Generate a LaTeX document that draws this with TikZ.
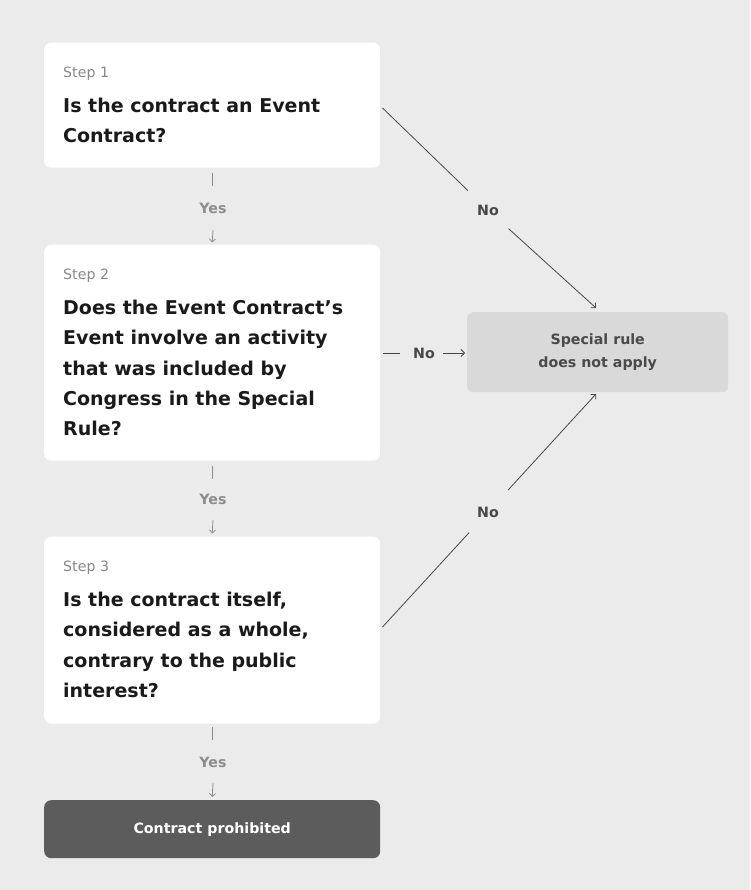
\documentclass[tikz,border=0pt]{standalone}
\usepackage{fontspec}
\setmainfont{DejaVu Sans}
\usetikzlibrary{arrows.meta,calc}
\definecolor{bgc}{HTML}{EBEBEB}
\definecolor{boxc}{HTML}{FFFFFF}
\definecolor{titlec}{HTML}{1A1A1A}
\definecolor{stepc}{HTML}{888888}
\definecolor{yesc}{HTML}{8C8C8C}
\definecolor{linec}{HTML}{474747}
\definecolor{specialc}{HTML}{D9D9D9}
\definecolor{specialt}{HTML}{4A4A4A}
\definecolor{prohc}{HTML}{5C5C5C}
\begin{document}
\begin{tikzpicture}[x=1pt,y=-1pt,
  stepbox/.style={draw=none,fill=boxc,rounded corners=7pt,minimum width=336pt,inner sep=0pt,anchor=north west},
  steplabel/.style={anchor=north west,inner sep=0pt,text=stepc,font=\fontsize{14.2}{16}\selectfont},
  question/.style={anchor=north west,inner sep=0pt,align=left,text=titlec,font=\fontsize{19}{30.3}\selectfont\bfseries},
  yeslabel/.style={inner sep=0pt,text=yesc,font=\fontsize{14.2}{17}\selectfont\bfseries},
  nolabel/.style={inner sep=0pt,text=linec,font=\fontsize{14.2}{17}\selectfont\bfseries},
  yesline/.style={draw=yesc,line width=0.8pt},
  yesarrow/.style={draw=yesc,line width=0.8pt,-{Straight Barb[length=3pt,width=6pt]}},
  noline/.style={draw=linec,line width=0.8pt},
  noarrow/.style={draw=linec,line width=0.8pt,-{Straight Barb[length=3.5pt,width=7pt]}},
]
\useasboundingbox (0,0) rectangle (750,890);
\fill[bgc] (0,0) rectangle (750,890);

% step boxes
\node[stepbox,minimum height=125pt] (b1) at (44,42.5) {};
\node[stepbox,minimum height=216pt] (b2) at (44,244.5) {};
\node[stepbox,minimum height=187pt] (b3) at (44,536.5) {};
\node[fill=prohc,rounded corners=7pt,minimum width=336pt,minimum height=58pt,inner sep=0pt,anchor=north west,
      text=white,font=\fontsize{14.2}{17}\selectfont\bfseries] (b4) at (44,800) {Contract prohibited};
\node[fill=specialc,rounded corners=6pt,minimum width=261pt,minimum height=80pt,inner sep=0pt,anchor=north west,
      align=center,text=specialt,font=\fontsize{14.2}{23}\selectfont\bfseries] (sr) at (467,312) {Special rule\\does not apply};

% texts
\node[steplabel] (s1) at (63,67) {Step 1};
\node[question] (q1) at (63,98) {Is the contract an Event\\Contract?};
\node[steplabel] (s2) at (63,269) {Step 2};
\node[question] (q2) at (63,300) {Does the Event Contract’s\\Event involve an activity\\that was included by\\Congress in the Special\\Rule?};
\node[steplabel] (s3) at (63,561) {Step 3};
\node[question] (q3) at (63,592) {Is the contract itself,\\considered as a whole,\\contrary to the public\\interest?};

% yes connectors
\node[yeslabel] (y1) at (213,208) {Yes};
\node[yeslabel] (y2) at (213,499) {Yes};
\node[yeslabel] (y3) at (213,762) {Yes};
\draw[yesline] ([yshift=-5]b1.south) -- ([yshift=-18]b1.south);
\draw[yesarrow] ([yshift=-22]y1.center) -- ([yshift=2]b2.north);
\draw[yesline] ([yshift=-5]b2.south) -- ([yshift=-18]b2.south);
\draw[yesarrow] ([yshift=-21]y2.center) -- ([yshift=3]b3.north);
\draw[yesline] ([yshift=-3]b3.south) -- ([yshift=-16]b3.south);
\draw[yesarrow] ([yshift=-21]y3.center) -- ([yshift=3]b4.north);

% no connectors
\node[nolabel] (n1) at (488,210) {No};
\node[nolabel] (n2) at (424,353) {No};
\node[nolabel] (n3) at (488,512) {No};
\coordinate (c1) at (382.5,108);
\coordinate (c3) at (382.5,627);
\coordinate (t1) at (596,308);
\coordinate (t3) at (596,394);
\draw[noline] (c1) -- ($(c1)!0.81!(n1)$);
\draw[noarrow] ($(n1)!0.19!(t1)$) -- (t1);
\draw[noline] ([xshift=3]b2.east |- n2) -- ([xshift=-13]n2.west);
\draw[noarrow] ([xshift=8]n2.east) -- ([xshift=-2]sr.west |- n2);
\draw[noline] (c3) -- ($(c3)!0.82!(n3)$);
\draw[noarrow] ($(n3)!0.185!(t3)$) -- (t3);
\end{tikzpicture}
\end{document}
